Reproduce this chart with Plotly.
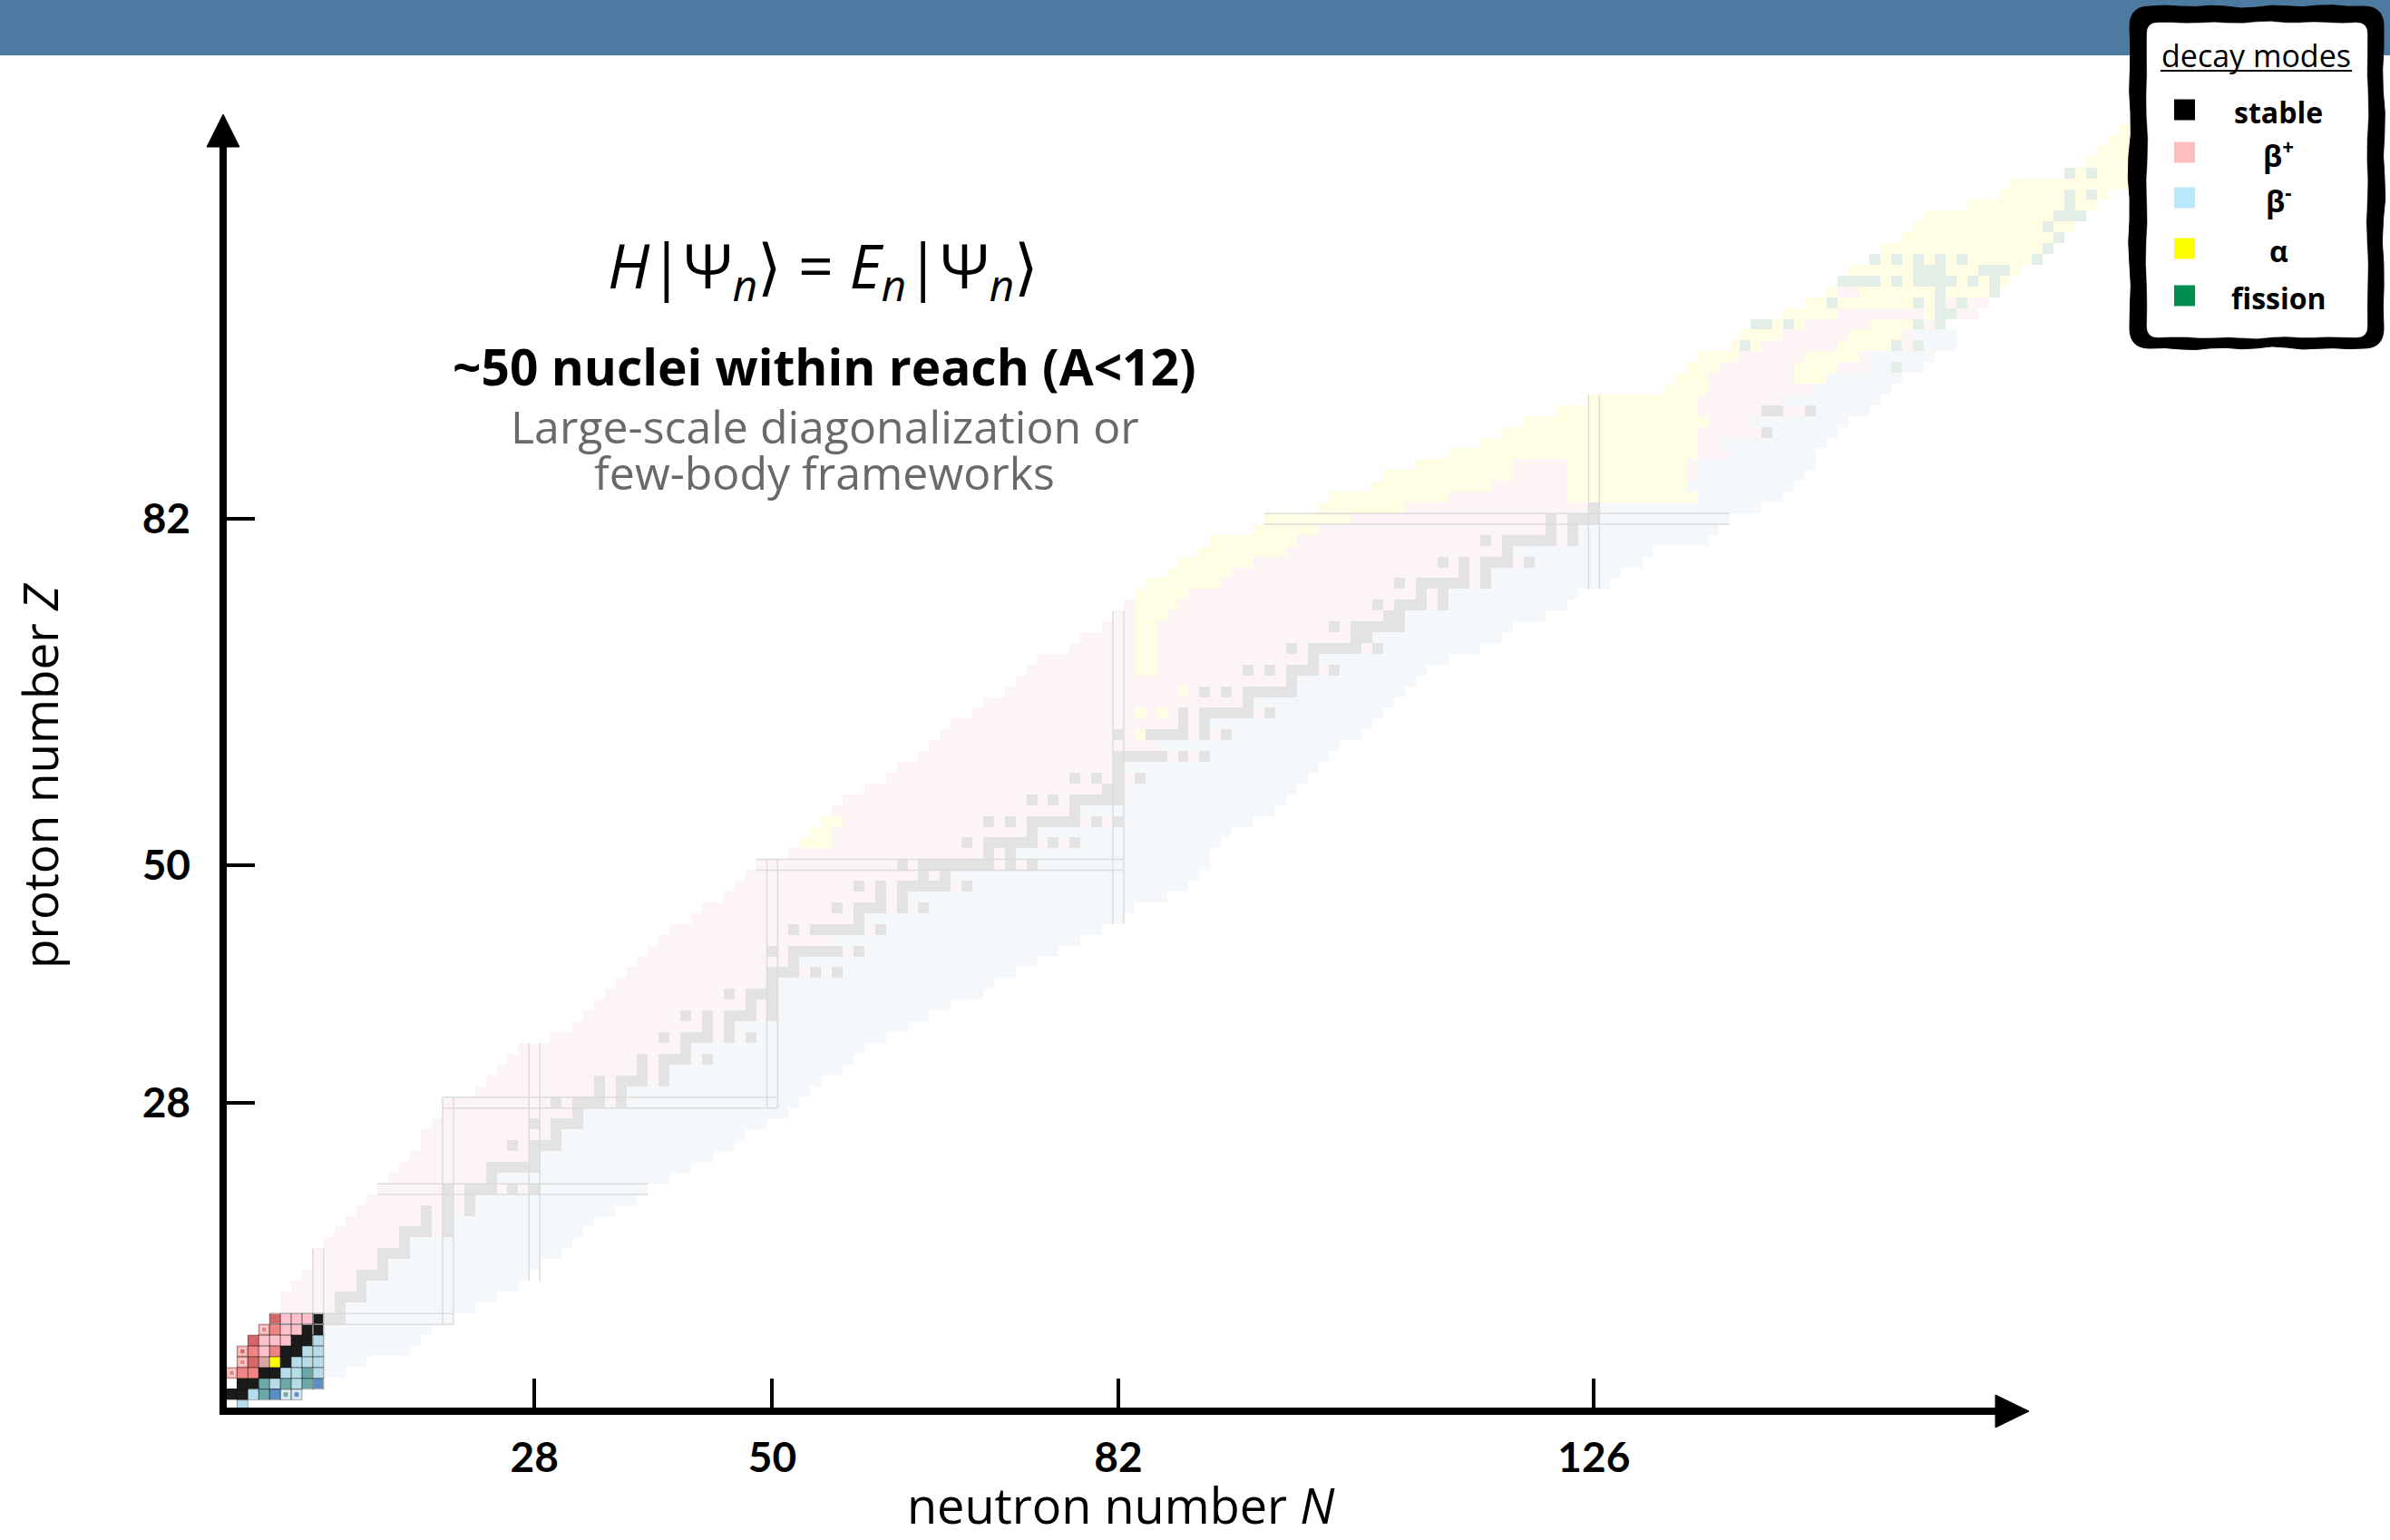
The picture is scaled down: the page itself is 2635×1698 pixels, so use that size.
import math
import plotly.graph_objects as go

# Known nuclei per proton number Z (list index = Z): lightest / heaviest neutron number N
N_LOW = [1, 0, 1, 0, 1, 1, 2, 3, 4, 5,
         5, 6, 7, 8, 8, 9, 10, 11, 12, 13,
         14, 15, 16, 17, 18, 18, 19, 20, 20, 23,
         24, 25, 26, 27, 30, 32, 33, 34, 35, 36,
         37, 38, 39, 40, 41, 43, 44, 46, 47, 48,
         49, 52, 53, 54, 55, 56, 57, 59, 61, 62,
         64, 65, 66, 67, 69, 70, 72, 73, 74, 75,
         78, 79, 81, 82, 83, 84, 85, 87, 88, 90,
         91, 95, 96, 101, 102, 106, 107, 110, 113, 116,
         118, 120, 123, 126, 133, 134, 135, 136, 139, 140,
         141, 144, 146, 148, 149, 150, 152, 153, 155, 156,
         157, 161, 164, 165, 170, 172, 173, 174, 175]
N_HIGH = [1, 6, 8, 10, 12, 16, 17, 18, 20, 22,
          24, 26, 27, 28, 30, 31, 32, 33, 35, 37,
          38, 40, 42, 44, 46, 47, 49, 51, 52, 53,
          54, 56, 57, 58, 60, 62, 64, 66, 69, 70,
          72, 74, 76, 78, 80, 82, 83, 86, 88, 89,
          90, 90, 91, 92, 94, 96, 97, 98, 99, 100,
          101, 102, 104, 105, 106, 107, 108, 109, 110, 112,
          115, 117, 118, 121, 123, 124, 127, 128, 130, 131,
          136, 137, 138, 141, 143, 144, 145, 146, 146, 147,
          148, 149, 151, 152, 153, 154, 156, 157, 159, 159,
          158, 161, 162, 163, 164, 165, 167, 168, 169, 170,
          171, 172, 173, 175, 175, 176, 176, 176, 176]

# Stable / primordial isotopes, by neutron number
STABLE = {
    1: [0, 1], 2: [1, 2], 3: [3, 4], 4: [5], 5: [5, 6], 6: [6, 7], 7: [7, 8],
    8: [8, 9, 10], 9: [10], 10: [10, 11, 12], 11: [12], 12: [12, 13, 14], 13: [14],
    14: [14, 15, 16], 15: [16], 16: [16, 17, 18, 20], 17: [18, 20], 18: [18, 20, 22],
    19: [20, 22], 20: [20, 22, 23, 24, 26, 28], 21: [24], 22: [24, 25, 26, 27, 28],
    23: [28], 24: [26, 28, 29, 30], 25: [30], 26: [28, 30, 31, 32], 27: [32],
    28: [30, 32, 33, 34, 36], 29: [34, 36], 30: [34, 36, 37, 38, 40], 31: [38, 40],
    32: [38, 40, 41, 42, 44], 33: [42], 34: [40, 42, 43, 44, 46, 48], 35: [44, 46],
    36: [42, 44, 46, 47, 48, 50], 37: [48, 50], 38: [46, 48, 49, 50], 39: [50],
    40: [50, 51, 52, 54, 56], 41: [52], 42: [50, 52, 53, 54, 55, 56, 58],
    44: [52, 54, 55, 56, 57, 58, 60], 45: [58], 46: [56, 58, 59, 60, 62, 64],
    47: [60, 62], 48: [58, 60, 62, 63, 64, 65, 66, 68], 49: [64, 66],
    50: [62, 64, 65, 66, 67, 68, 69, 70, 72, 74], 51: [70, 72],
    52: [68, 70, 71, 72, 73, 74, 76, 78], 53: [74],
    54: [70, 72, 74, 75, 76, 77, 78, 80, 82], 55: [78],
    56: [74, 76, 78, 79, 80, 81, 82], 57: [81, 82], 58: [78, 80, 82, 84], 59: [82],
    60: [82, 83, 84, 85, 86, 88, 90], 62: [82, 85, 86, 87, 88, 90, 92], 63: [88, 90],
    64: [88, 90, 91, 92, 93, 94, 96], 65: [94], 66: [90, 92, 94, 95, 96, 97, 98],
    67: [98], 68: [94, 96, 98, 99, 100, 102], 69: [100],
    70: [98, 100, 101, 102, 103, 104, 106], 71: [104, 105],
    72: [102, 104, 105, 106, 107, 108], 73: [107, 108], 74: [106, 108, 109, 110, 112],
    75: [110, 112], 76: [108, 110, 111, 112, 113, 114, 116], 77: [114, 116],
    78: [112, 114, 116, 117, 118, 120], 79: [118],
    80: [116, 118, 119, 120, 121, 122, 124], 81: [122, 124], 82: [122, 124, 125, 126],
    83: [126], 90: [142], 92: [142, 143, 146],
}

# Last proton-rich neutron number for rows without a stable isotope
BETA_SPLIT = {0: 0, 43: 55, 61: 85, 84: 135, 85: 134, 86: 135, 87: 135, 88: 138,
              89: 137, 91: 140, 93: 143, 94: 146, 95: 146, 96: 151, 97: 151,
              98: 155, 99: 155, 100: 157}

# Alpha-decay stretches along each row: (first N, last N)
ALPHA = {
    52: [(53, 55)], 53: [(54, 55)], 54: [(55, 56)], 62: [(84, 84)],
    64: [(84, 84), (86, 86)], 66: [(88, 88)], 68: [(84, 85)], 69: [(84, 85)],
    70: [(84, 85)], 71: [(84, 85)], 72: [(84, 85)], 73: [(84, 86)], 74: [(84, 87)],
    75: [(84, 88)], 76: [(85, 91)], 77: [(87, 92)], 78: [(88, 94)], 79: [(90, 97)],
    80: [(91, 98)], 81: [(95, 100)], 82: [(96, 103)], 83: [(101, 108)],
    84: [(102, 112), (124, 135)], 85: [(106, 116), (124, 134)],
    86: [(107, 118), (124, 134)], 87: [(110, 118), (124, 134)], 88: [(113, 135)],
    89: [(116, 135)], 90: [(118, 135)], 91: [(120, 136)], 92: [(123, 135)],
    93: [(126, 135)], 94: [(133, 136)], 95: [(134, 136), (145, 147)],
    96: [(135, 137), (145, 148)], 97: [(136, 139), (146, 150)],
    98: [(139, 141), (149, 153)], 99: [(140, 143), (150, 154)],
    100: [(141, 145), (152, 155)], 101: [(144, 148), (157, 159)],
    102: [(146, 147), (149, 158)], 103: [(148, 148), (151, 163)],
    104: [(149, 164)], 105: [(150, 165)], 106: [(152, 167)], 107: [(153, 168)],
    108: [(155, 169)], 109: [(156, 170)], 110: [(157, 171)], 111: [(161, 172)],
    112: [(164, 173)], 113: [(165, 175)], 114: [(170, 175)], 115: [(172, 176)],
    116: [(173, 176)], 117: [(174, 176)], 118: [(175, 176)],
}

# Spontaneous-fission nuclei: (Z, N)
FISSION = [(114, 170), (114, 172), (112, 170), (112, 172), (111, 170), (110, 169),
           (110, 170), (110, 171), (109, 168), (108, 169), (107, 168), (106, 167),
           (106, 152), (106, 154), (106, 156), (106, 158), (106, 160), (105, 156),
           (105, 157), (105, 158), (105, 162), (105, 163), (105, 164), (104, 149),
           (104, 150), (104, 151), (104, 152), (104, 154), (104, 156), (104, 157),
           (104, 158), (104, 159), (104, 161), (104, 163), (103, 158), (103, 163),
           (102, 148), (102, 156), (102, 158), (102, 160), (101, 158), (101, 159),
           (100, 141), (100, 142), (100, 144), (100, 156), (100, 158), (100, 159),
           (98, 140), (98, 154), (98, 156), (96, 154)]

# Light nuclei shown in full colour: (Z, N, decay mode)
LIGHT = [
    (0, 1, "b-"),
    (1, 0, "s"), (1, 1, "s"), (1, 2, "b-"), (1, 3, "n"), (1, 4, "2n"), (1, 5, "nh"), (1, 6, "nh"),
    (2, 1, "s"), (2, 2, "s"), (2, 3, "n"), (2, 4, "b-"), (2, 5, "n"), (2, 6, "b-"), (2, 7, "n"), (2, 8, "2n"),
    (3, 0, "ph"), (3, 1, "p"), (3, 2, "p"), (3, 3, "s"), (3, 4, "s"), (3, 5, "b-"), (3, 6, "b-"), (3, 7, "n"), (3, 8, "b-"),
    (4, 1, "ph"), (4, 2, "2p"), (4, 3, "ec"), (4, 4, "a"), (4, 5, "s"), (4, 6, "b-"), (4, 7, "b-"), (4, 8, "b-"),
    (5, 1, "ph"), (5, 2, "p"), (5, 3, "b+"), (5, 4, "p"), (5, 5, "s"), (5, 6, "s"), (5, 7, "b-"), (5, 8, "b-"),
    (6, 2, "2p"), (6, 3, "b+"), (6, 4, "b+"), (6, 5, "b+"), (6, 6, "s"), (6, 7, "s"), (6, 8, "b-"),
    (7, 3, "ph"), (7, 4, "p"), (7, 5, "b+"), (7, 6, "b+"), (7, 7, "s"), (7, 8, "s"),
    (8, 4, "2p"), (8, 5, "b+"), (8, 6, "b+"), (8, 7, "b+"), (8, 8, "s"),
]
# Light nuclei carrying an inner square: (Z, N, inner decay mode)
LIGHT_INNER = [(1, 5, "n"), (1, 6, "2n"), (3, 0, "p"), (4, 1, "p"), (5, 1, "2p"), (7, 3, "p")]

# Shell closures: spans of the double guide lines
MAGIC_Z_SPAN = {8: (4, 20), 20: (14, 38), 28: (20, 50), 50: (49, 82), 82: (96, 138)}
MAGIC_N_SPAN = {8: (2, 14), 20: (8, 28), 28: (12, 33), 50: (28, 50), 82: (45, 73), 126: (76, 93)}

N_TICKS = [28, 50, 82, 126]
Z_TICKS = [28, 50, 82]

LEGEND_LABELS = ["stable", "β<sup>+</sup>", "β<sup>-</sup>", "α", "fission"]
LEGEND_COLORS = ["#000000", "#ffbfbf", "#b8e8fb", "#ffff00", "#008f4f"]

# ---------------------------------------------------------------- styling
FONT = "Open Sans"
TICK_FONT = "Lato"
FADED_COLORS = ["#fdf5f5", "#f4f8fa", "#fffde4", "#e3e3e3", "#e3efe6"]  # b+, b-, a, stable, fission
LIGHT_MODES = ["s", "b+", "p", "2p", "ec", "a", "b-", "n", "2n", "ph", "nh"]
LIGHT_COLORS = ["#1b1b1b", "#ffc2cd", "#ee8484", "#d46868", "#dba5a5", "#ffff00",
                "#b4dde9", "#6aa7a7", "#5b8ec3", "#f3acac", "#cfe6ec"]

W, H = 2635, 1698
PLOT_L, PLOT_R, PLOT_T, PLOT_B = 246, 2400, 100, 1556
CELL = 11.92
X0 = -0.5 - (249.5 - PLOT_L) / CELL
X1 = X0 + (PLOT_R - PLOT_L) / CELL
Y0 = -0.5 - (PLOT_B - 1555.5) / CELL
Y1 = Y0 + (PLOT_B - PLOT_T) / CELL


def px(x):
    return (x - PLOT_L) / (PLOT_R - PLOT_L)


def py(y):
    return (PLOT_B - y) / (PLOT_B - PLOT_T)


def discrete_scale(colors):
    k = len(colors)
    scale = []
    for i, c in enumerate(colors):
        scale += [[i / k, c], [(i + 1) / k, c]]
    return scale


# ---------------------------------------------------------------- cell grids
n_cols = max(N_HIGH) + 1
n_rows = len(N_LOW)
light_pos = {(z, n) for z, n, _ in LIGHT}
fission_pos = set(FISSION)

faded = [[None] * n_cols for _ in range(n_rows)]
for z in range(n_rows):
    stable = STABLE.get(z, [])
    split = max(stable) if stable else BETA_SPLIT.get(z, N_HIGH[z])
    for n in range(N_LOW[z], N_HIGH[z] + 1):
        if (z, n) in light_pos:
            continue
        if n in stable:
            code = 3
        elif (z, n) in fission_pos:
            code = 4
        elif any(a <= n <= b for a, b in ALPHA.get(z, [])):
            code = 2
        elif n > split:
            code = 1
        else:
            code = 0
        faded[z][n] = code

light_rows = max(z for z, _, _ in LIGHT) + 1
light_cols = max(n for _, n, _ in LIGHT) + 1
light = [[None] * light_cols for _ in range(light_rows)]
for z, n, mode in LIGHT:
    light[z][n] = LIGHT_MODES.index(mode)

fig = go.Figure()

fig.add_trace(go.Heatmap(
    z=faded, x=list(range(n_cols)), y=list(range(n_rows)),
    colorscale=discrete_scale(FADED_COLORS), zmin=-0.5, zmax=len(FADED_COLORS) - 0.5,
    showscale=False, hoverinfo="skip"))

# double guide lines along the magic numbers
mx, my = [], []
for zm, (lo, hi) in MAGIC_Z_SPAN.items():
    for edge in (zm - 0.5, zm + 0.5):
        mx += [lo - 0.5, hi + 0.5, None]
        my += [edge, edge, None]
for nm, (lo, hi) in MAGIC_N_SPAN.items():
    for edge in (nm - 0.5, nm + 0.5):
        mx += [edge, edge, None]
        my += [lo - 0.5, hi + 0.5, None]
fig.add_trace(go.Scatter(x=mx, y=my, mode="lines", line=dict(color="#dcdcdc", width=1.5),
                         hoverinfo="skip"))

fig.add_trace(go.Heatmap(
    z=light, x=list(range(light_cols)), y=list(range(light_rows)),
    colorscale=discrete_scale(LIGHT_COLORS), zmin=-0.5, zmax=len(LIGHT_COLORS) - 0.5,
    showscale=False, hoverinfo="skip"))

fig.add_trace(go.Scatter(
    x=[n for _, n, _ in LIGHT], y=[z for z, _, _ in LIGHT], mode="markers",
    marker=dict(symbol="square-open", size=12, line=dict(width=1, color="rgba(20,20,20,0.35)"),
                color="rgba(20,20,20,0.35)"),
    hoverinfo="skip"))

fig.add_trace(go.Scatter(
    x=[n for _, n, _ in LIGHT_INNER], y=[z for z, _, _ in LIGHT_INNER], mode="markers",
    marker=dict(symbol="square", size=6,
                color=[LIGHT_COLORS[LIGHT_MODES.index(m)] for _, _, m in LIGHT_INNER],
                line=dict(width=1.5, color="rgba(255,255,255,0.6)")),
    hoverinfo="skip"))

# ---------------------------------------------------------------- axes
tick_font = dict(family=TICK_FONT, size=46, color="black")
fig.update_xaxes(range=[X0, X1], showgrid=False, zeroline=False, showline=False,
                 tickvals=N_TICKS, ticktext=[f"<b>{v}</b>" for v in N_TICKS],
                 ticks="inside", ticklen=36, tickwidth=4, tickcolor="black",
                 tickfont=tick_font, ticklabelstandoff=20)
fig.update_yaxes(range=[Y0, Y1], showgrid=False, zeroline=False, showline=False,
                 tickvals=Z_TICKS, ticktext=[f"<b>{v}</b>" for v in Z_TICKS],
                 ticks="inside", ticklen=35, tickwidth=4, tickcolor="black",
                 tickfont=tick_font, ticklabelstandoff=35)

shapes = []
# header band
shapes.append(dict(type="rect", xref="paper", yref="paper", x0=px(0), x1=px(W),
                   y0=py(61), y1=py(0), fillcolor="#4c7aa0", line=dict(width=0), layer="below"))
# axis lines with arrowheads
shapes.append(dict(type="line", xref="paper", yref="paper", x0=px(242), x1=px(2205),
                   y0=py(1556), y1=py(1556), line=dict(color="black", width=8)))
shapes.append(dict(type="path", xref="paper", yref="paper",
                   path=f"M {px(2200)},{py(1538)} L {px(2237)},{py(1556)} L {px(2200)},{py(1574)} Z",
                   fillcolor="black", line=dict(color="black", width=1)))
shapes.append(dict(type="line", xref="paper", yref="paper", x0=px(246), x1=px(246),
                   y0=py(1560), y1=py(158), line=dict(color="black", width=8)))
shapes.append(dict(type="path", xref="paper", yref="paper",
                   path=f"M {px(228)},{py(162)} L {px(246)},{py(126)} L {px(264)},{py(162)} Z",
                   fillcolor="black", line=dict(color="black", width=1)))


def wobbly_frame(x0, y0, x1, y1, r, amp, phase):
    """Closed hand-drawn looking rounded rectangle, as an SVG path in paper units."""
    pts = []
    steps = 14
    corners = [((x0 + r, y0), (x1 - r, y0)), ((x1, y0 + r), (x1, y1 - r)),
               ((x1 - r, y1), (x0 + r, y1)), ((x0, y1 - r), (x0, y0 + r))]
    normals = [(0, -1), (1, 0), (0, 1), (-1, 0)]
    k = 0
    for (a, b), (nx, ny) in zip(corners, normals):
        for i in range(steps + 1):
            t = i / steps
            w = amp * (math.sin(1.7 * k + phase) * 0.6 + math.sin(0.63 * k + 2 * phase) * 0.4)
            w *= math.sin(math.pi * t) ** 0.5
            pts.append((a[0] + (b[0] - a[0]) * t + nx * w, a[1] + (b[1] - a[1]) * t + ny * w))
            k += 1
    path = f"M {px(pts[0][0])},{py(pts[0][1])}"
    for side in range(4):
        seg = pts[side * (steps + 1):(side + 1) * (steps + 1)]
        if side > 0:
            cx, cy = [(x1, y0), (x1, y1), (x0, y1)][side - 1]
            path += f" Q {px(cx)},{py(cy)} {px(seg[0][0])},{py(seg[0][1])}"
        for x, y in seg[1:]:
            path += f" L {px(x)},{py(y)}"
    path += f" Q {px(x0)},{py(y0)} {px(pts[0][0])},{py(pts[0][1])} Z"
    return path


# legend frame: thick black outline with a white inside
shapes.append(dict(type="path", xref="paper", yref="paper",
                   path=wobbly_frame(2348, 7, 2628, 384, 22, 2.2, 0.4),
                   fillcolor="black", line=dict(color="black", width=1)))
shapes.append(dict(type="path", xref="paper", yref="paper",
                   path=wobbly_frame(2367, 25, 2610, 372, 12, 1.4, 1.3),
                   fillcolor="white", line=dict(color="white", width=0.5)))
shapes.append(dict(type="line", xref="paper", yref="paper", x0=px(2382), x1=px(2593),
                   y0=py(78), y1=py(78), line=dict(color="black", width=2)))

annotations = []
legend_y = [121, 168, 218, 274, 326]
for lab, col, yc in zip(LEGEND_LABELS, LEGEND_COLORS, legend_y):
    shapes.append(dict(type="rect", xref="paper", yref="paper", x0=px(2397), x1=px(2420),
                       y0=py(yc + 11.5), y1=py(yc - 11.5), fillcolor=col, line=dict(width=0)))
    annotations.append(dict(xref="paper", yref="paper", x=px(2512), y=py(yc + 2),
                            text=f"<b>{lab}</b>", showarrow=False, xanchor="center", yanchor="middle",
                            font=dict(family=FONT, size=32, color="black")))
annotations.append(dict(xref="paper", yref="paper", x=px(2487), y=py(61), text="decay modes",
                        showarrow=False, xanchor="center", yanchor="middle",
                        font=dict(family=FONT, size=34, color="black")))

# headline texts
annotations.append(dict(xref="paper", yref="paper", x=px(907), y=py(296),
                        text="<i>H</i>|Ψ<sub><i>n</i></sub>⟩ = <i>E</i><sub><i>n</i></sub>|Ψ<sub><i>n</i></sub>⟩",
                        showarrow=False, xanchor="center", yanchor="middle",
                        font=dict(family=FONT, size=68, color="black")))
annotations.append(dict(xref="paper", yref="paper", x=px(909), y=py(403),
                        text="<b>~50 nuclei within reach (A<12)</b>",
                        showarrow=False, xanchor="center", yanchor="middle",
                        font=dict(family=FONT, size=55, color="black")))
annotations.append(dict(xref="paper", yref="paper", x=px(909), y=py(470),
                        text="Large-scale diagonalization or",
                        showarrow=False, xanchor="center", yanchor="middle",
                        font=dict(family=FONT, size=50, color="#696969")))
annotations.append(dict(xref="paper", yref="paper", x=px(909), y=py(521),
                        text="few-body frameworks",
                        showarrow=False, xanchor="center", yanchor="middle",
                        font=dict(family=FONT, size=50, color="#696969")))

# axis titles
annotations.append(dict(xref="paper", yref="paper", x=px(1236), y=py(1659),
                        text="neutron number <i>N</i>", showarrow=False,
                        xanchor="center", yanchor="middle",
                        font=dict(family=FONT, size=54, color="black")))
annotations.append(dict(xref="paper", yref="paper", x=px(44), y=py(855),
                        text="proton number <i>Z</i>", showarrow=False, textangle=-90,
                        xanchor="center", yanchor="middle",
                        font=dict(family=FONT, size=53, color="black")))

fig.update_layout(width=W, height=H,
                  margin=dict(l=PLOT_L, r=W - PLOT_R, t=PLOT_T, b=H - PLOT_B),
                  plot_bgcolor="white", paper_bgcolor="white", showlegend=False,
                  shapes=shapes, annotations=annotations)

fig.write_html("out.html")
